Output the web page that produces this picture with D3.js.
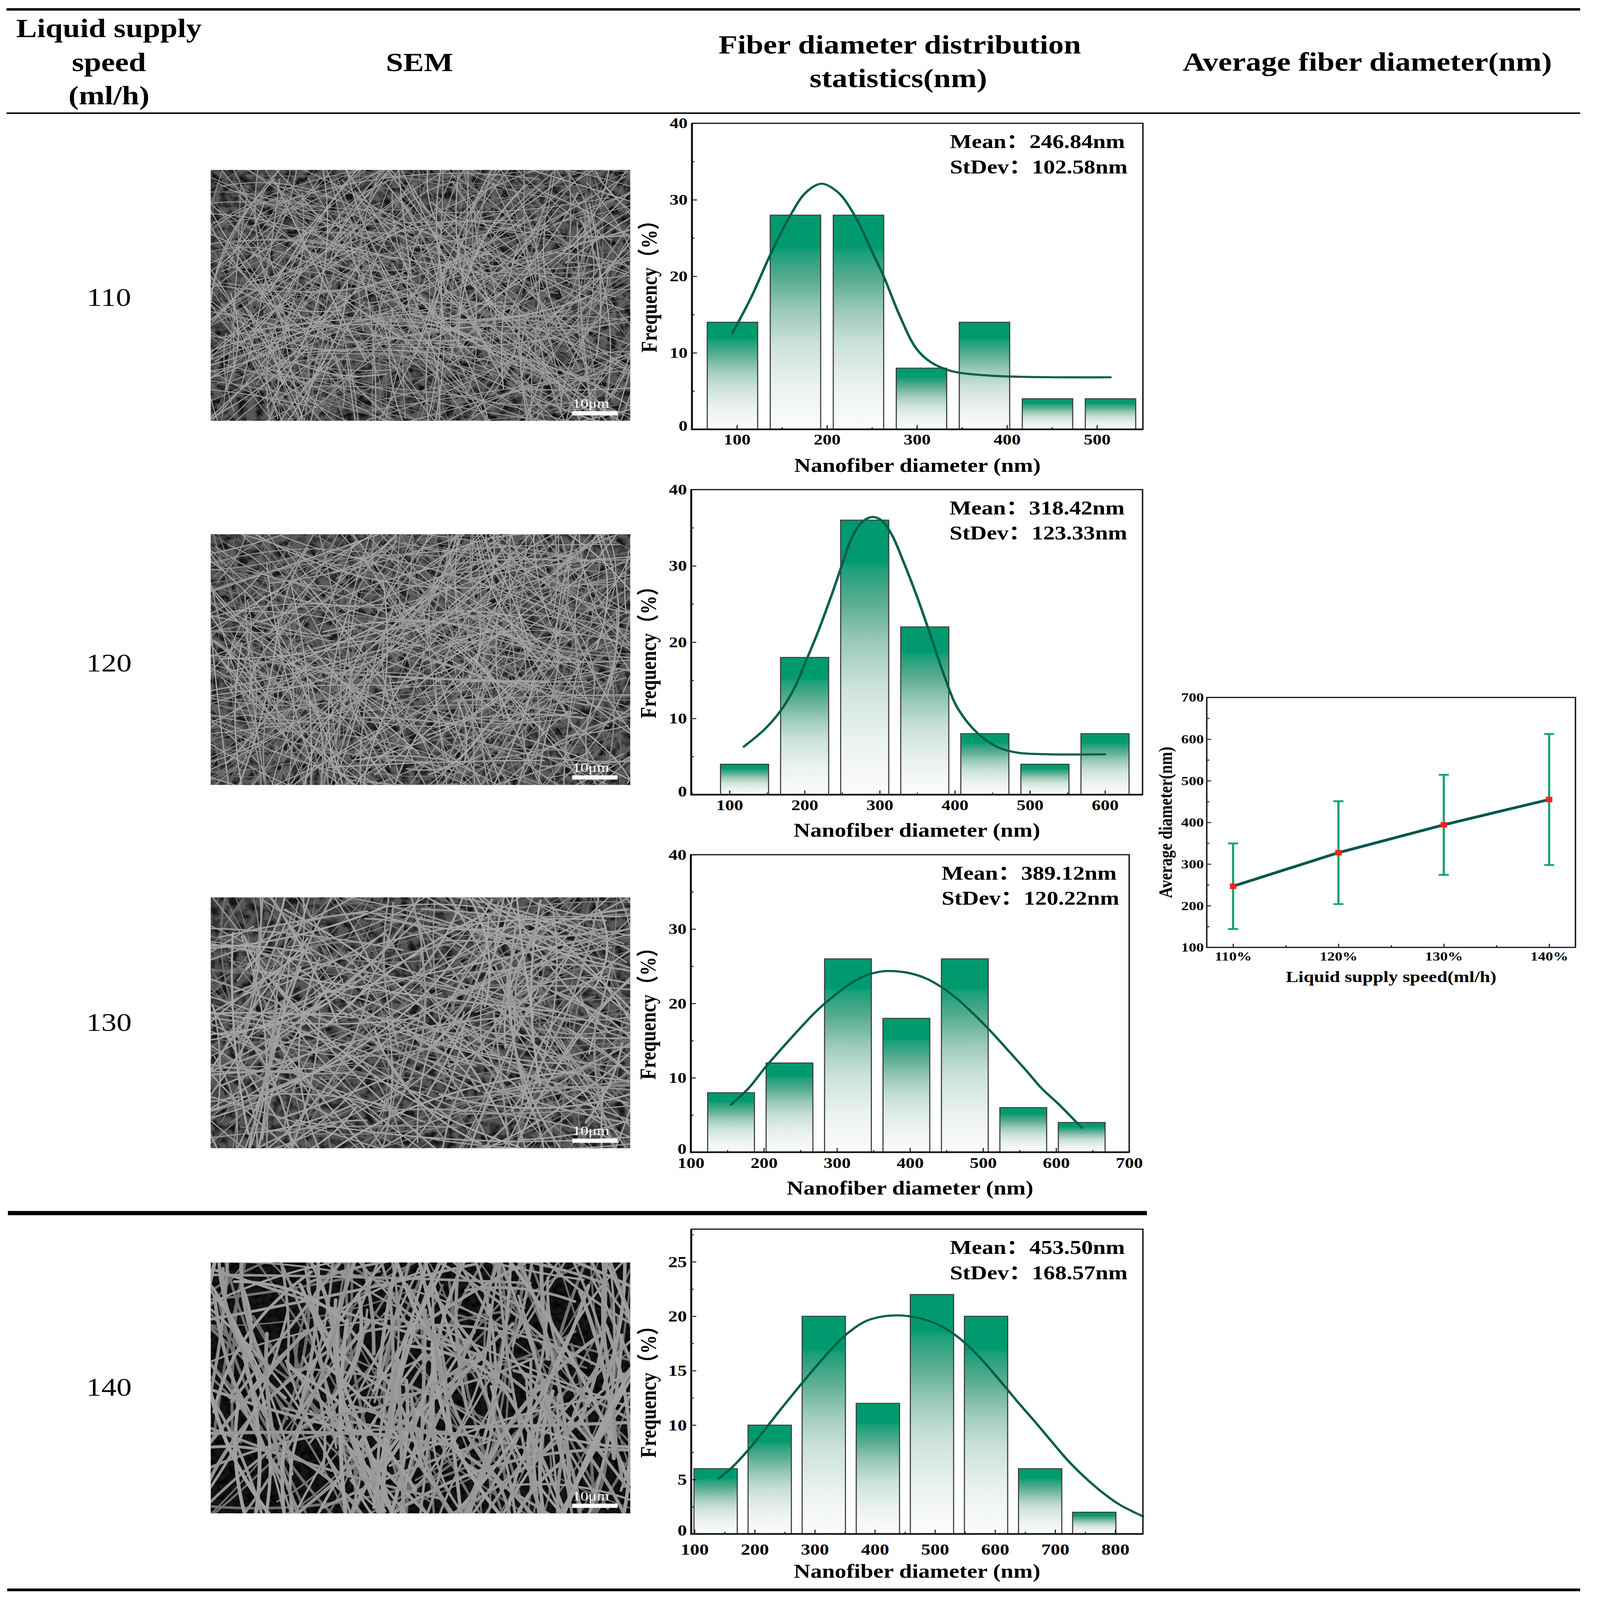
<!DOCTYPE html>
<html>
<head>
<meta charset="utf-8">
<script src="https://cdn.jsdelivr.net/npm/d3@7"></script>
<style>
  html, body { margin: 0; padding: 0; background: #fff; overflow: hidden; }
  svg { display: block; width: 100vw; height: 100vh; }
</style>
</head>
<body>
<svg id="fig" viewBox="0 0 4435 5281" preserveAspectRatio="none"></svg>
<script>
'use strict';

// ---------- data ----------
const supplySpeeds = ['110', '120', '130', '140'];

const binWidths = [70, 80, 80, 90];

const binCenters1 = [95, 165, 235, 305, 375, 445, 515];
const freq1 = [14, 28, 28, 8, 14, 4, 4];
const fitX1 = [95, 116, 137, 159, 177, 194, 212, 231, 251, 263, 281, 299, 315, 333, 347, 384, 423, 461, 515];
const fitY1 = [12.6, 17.3, 22.8, 27.9, 31.0, 32.1, 31.0, 27.9, 23.0, 20.0, 14.8, 10.6, 8.8, 7.8, 7.4, 7.0, 6.85, 6.8, 6.8];

const binCenters2 = [120, 200, 280, 360, 440, 520, 600];
const freq2 = [4, 18, 36, 22, 8, 4, 8];
const fitX2 = [119, 147, 168, 187, 200, 218, 236, 249, 262, 276, 289, 302, 316, 333, 351, 369, 387, 404, 431, 458, 484, 524, 600];
const fitY2 = [6.3, 8.6, 11.0, 14.1, 17.1, 21.4, 26.2, 29.9, 33.5, 35.7, 36.4, 36.0, 34.1, 30.2, 25.6, 20.5, 15.3, 11.3, 8.0, 6.2, 5.5, 5.3, 5.3];

const binCenters3 = [155, 235, 315, 395, 475, 555, 635];
const freq3 = [8, 12, 26, 18, 26, 6, 4];
const fitX3 = [155, 179, 201, 224, 247, 270, 293, 316, 338, 361, 377, 398, 421, 443, 466, 489, 512, 535, 558, 580, 603, 635];
const fitY3 = [6.4, 8.6, 11.3, 13.9, 16.4, 18.8, 20.8, 22.5, 23.7, 24.3, 24.35, 24.1, 23.4, 22.2, 20.5, 18.4, 16.1, 13.6, 11.1, 8.6, 6.5, 3.3];

const binCenters4 = [135, 225, 315, 405, 495, 585, 675, 765];
const freq4 = [6, 10, 20, 12, 22, 20, 6, 2];
const fitX4 = [140, 161, 189, 217, 244, 272, 300, 328, 356, 383, 411, 444, 472, 500, 528, 556, 583, 611, 639, 667, 694, 722, 750, 778, 806, 846];
const fitY4 = [5.1, 6.05, 7.7, 9.6, 11.5, 13.4, 15.25, 17.0, 18.5, 19.5, 19.96, 20.07, 19.85, 19.36, 18.5, 17.25, 15.7, 13.9, 12.04, 10.27, 8.5, 6.7, 5.17, 3.84, 2.73, 1.62];

const meanLabels = ['246.84', '318.42', '389.12', '453.50'];
const stdevLabels = ['102.58', '123.33', '120.22', '168.57'];

const xTicks1 = [100, 200, 300, 400, 500];
const xTicks2 = [100, 200, 300, 400, 500, 600];
const xTicks3 = [100, 200, 300, 400, 500, 600, 700];
const xTicks4 = [100, 200, 300, 400, 500, 600, 700, 800];
const yTicksFreq = [0, 10, 20, 30, 40];
const yTicksFreq4 = [0, 5, 10, 15, 20, 25];

const speedX = [110, 120, 130, 140];
const speedLabels = ['110%', '120%', '130%', '140%'];
const avgDiameter = [246.8, 327.4, 394.2, 455.0];
const avgError = [102.8, 123.5, 120.1, 157.3];
const avgYTicks = [100, 200, 300, 400, 500, 600, 700];

// ---------- layout ----------
const W = 4435, H = 5281;
const SERIF = '"Liberation Serif", "Times New Roman", "Noto Sans CJK SC", serif';
const INK = '#111';

const svg = d3.select('#fig');
svg.append('rect').attr('width', W).attr('height', H).attr('fill', '#fff');
const defs = svg.append('defs');

const grad = defs.append('linearGradient').attr('id', 'barGrad')
  .attr('x1', 0).attr('y1', 0).attr('x2', 0).attr('y2', 1);
[[0, '#009a6e'], [0.15, '#009a6e'], [0.17, '#199f79'], [0.3, '#5aad90'],
 [0.45, '#9ccbb9'], [0.6, '#cbe2d8'], [0.8, '#ebf2ef'], [1, '#fcfcfc']]
  .forEach(([o, c]) => grad.append('stop').attr('offset', o).attr('stop-color', c));

// table rules
const rules = [
  { x0: 18, x1: 4380, y: 27, h: 8 },
  { x0: 18, x1: 4380, y: 371, h: 5 },
  { x0: 22, x1: 3179, y: 3997, h: 14 },
  { x0: 20, x1: 4380, y: 5243, h: 9 }
];
svg.append('g').selectAll('rect').data(rules).join('rect')
  .attr('x', d => d.x0).attr('y', d => d.y)
  .attr('width', d => d.x1 - d.x0).attr('height', d => d.h)
  .attr('fill', '#000');

// header
const header = [
  { t: 'Liquid supply', x: 302, y: 123 },
  { t: 'speed', x: 302, y: 235 },
  { t: '(ml/h)', x: 302, y: 344 },
  { t: 'SEM', x: 1163, y: 235 },
  { t: 'Fiber diameter distribution', x: 2494, y: 177 },
  { t: 'statistics(nm)', x: 2490, y: 288 },
  { t: 'Average fiber diameter(nm)', x: 3790, y: 233 }
];
svg.append('g').selectAll('text').data(header).join('text')
  .attr('x', d => d.x).attr('y', d => d.y)
  .attr('text-anchor', 'middle')
  .attr('font-family', SERIF).attr('font-weight', 'bold').attr('font-size', 86)
  .attr('fill', '#000')
  .text(d => d.t);

// row labels
const rowLabelY = [1010, 2216, 3403, 4607];
svg.append('g').selectAll('text').data(supplySpeeds).join('text')
  .attr('x', 302).attr('y', (d, i) => rowLabelY[i])
  .attr('text-anchor', 'middle')
  .attr('font-family', SERIF).attr('font-size', 84).attr('fill', '#000')
  .text(d => d);

// ---------- SEM micrograph stand-ins ----------
const semBox = { x: 584, w: 1163, h: 828, tops: [561, 1763, 2962, 4167] };
const semStyles = [
  { bg: '#585858', n: 650, wMin: 2.2, wMax: 3.8, gMin: 145, gMax: 172, vert: 0, off: 11, holes: 0.8, lMin: 0.15, lMax: 0.7 },
  { bg: '#5a5a5a', n: 620, wMin: 2.6, wMax: 4.2, gMin: 145, gMax: 175, vert: 0, off: 933, holes: 0.75, lMin: 0.15, lMax: 0.7 },
  { bg: '#565656', n: 380, wMin: 3.5, wMax: 6, gMin: 148, gMax: 172, vert: 0, off: 1771, holes: 0.75, lMin: 0.2, lMax: 0.85 },
  { bg: '#161616', n: 290, wMin: 6, wMax: 11, gMin: 146, gMax: 162, vert: 0.6, off: 2659, holes: 0.9, lMin: 0.25, lMax: 0.95 }
];

function hash(k, j) {
  const s = Math.sin(k * 12.9898 + j * 78.233) * 43758.5453;
  return s - Math.floor(s);
}

semStyles.forEach((st, i) => {
  const f = defs.append('filter').attr('id', 'holes' + i)
    .attr('x', 0).attr('y', 0).attr('width', 1).attr('height', 1);
  f.append('feTurbulence').attr('type', 'fractalNoise')
    .attr('baseFrequency', i === 3 ? 0.06 : 0.04).attr('numOctaves', 3).attr('seed', 3 + i * 7);
  f.append('feColorMatrix').attr('type', 'matrix')
    .attr('values', '0 0 0 0 0  0 0 0 0 0  0 0 0 0 0  3 0 0 0 -1.2');
});
defs.append('filter').attr('id', 'soft')
  .append('feGaussianBlur').attr('stdDeviation', 0.8);

semBox.tops.forEach((top, i) => {
  const st = semStyles[i];
  const w = semBox.w, h = semBox.h;
  defs.append('clipPath').attr('id', 'semClip' + i)
    .append('rect').attr('width', w).attr('height', h);
  const g = svg.append('g')
    .attr('transform', `translate(${semBox.x},${top})`)
    .attr('clip-path', `url(#semClip${i})`);
  g.append('rect').attr('width', w).attr('height', h).attr('fill', st.bg);
  g.append('rect').attr('width', w).attr('height', h)
    .attr('filter', `url(#holes${i})`).attr('opacity', st.holes);

  const fibres = [];
  for (let n = 0; n < st.n; n++) {
    const k = n + st.off;
    const cx = hash(k, 1) * w, cy = hash(k, 2) * h;
    let th = hash(k, 3) * Math.PI;
    if (st.vert && hash(k, 7) < st.vert) th = Math.PI / 2 + (hash(k, 3) - 0.5) * 1.2;
    const len = (st.lMin + (st.lMax - st.lMin) * hash(k, 4)) * Math.max(w, h);
    const bend = (hash(k, 5) - 0.5) * 0.45 * len;
    const dx = Math.cos(th) * len / 2, dy = Math.sin(th) * len / 2;
    const qx = cx - Math.sin(th) * bend, qy = cy + Math.cos(th) * bend;
    const under = n < st.n * 0.35;
    let gray = st.gMin + (st.gMax - st.gMin) * hash(k, 6);
    if (under) gray *= 0.74;
    fibres.push({
      d: `M${cx - dx},${cy - dy}Q${qx},${qy} ${cx + dx},${cy + dy}`,
      sw: (st.wMin + (st.wMax - st.wMin) * hash(k, 8)) * (under ? 0.8 : 1),
      col: `rgb(${gray | 0},${gray | 0},${gray | 0})`
    });
  }
  g.append('g').attr('filter', 'url(#soft)')
    .selectAll('path').data(fibres).join('path')
    .attr('d', d => d.d).attr('fill', 'none')
    .attr('stroke', d => d.col).attr('stroke-width', d => d.sw)
    .attr('stroke-linecap', 'round');

  // scale bar
  g.append('rect').attr('x', w - 161).attr('y', h - 32).attr('width', 126).attr('height', 14).attr('fill', '#fff');
  g.append('text').attr('x', w - 160).attr('y', h - 43)
    .attr('font-family', SERIF).attr('font-size', 44).attr('fill', '#fff')
    .text('10μm');
});

// ---------- histograms ----------
const hists = [
  { c: binCenters1, f: freq1, fx: fitX1, fy: fitY1, xt: xTicks1, yt: yTicksFreq },
  { c: binCenters2, f: freq2, fx: fitX2, fy: fitY2, xt: xTicks2, yt: yTicksFreq },
  { c: binCenters3, f: freq3, fx: fitX3, fy: fitY3, xt: xTicks3, yt: yTicksFreq },
  { c: binCenters4, f: freq4, fx: fitX4, fy: fitY4, xt: xTicks4, yt: yTicksFreq4 }
];
const histLayout = [
  { x0: 1918, x1: 3168, y0: 407, y1: 1417, xDom: [50, 551], yMax: 40, tfs: 50, tDy: 50, titleDy: 141, statX: 535 },
  { x0: 1916, x1: 3167, y0: 1616, y1: 2623, xDom: [49, 650], yMax: 40, tfs: 50, tDy: 51, titleDy: 139, statX: 535 },
  { x0: 1915, x1: 3130, y0: 2821, y1: 3803, xDom: [100, 700], yMax: 40, tfs: 50, tDy: 52, titleDy: 140, statX: 520 },
  { x0: 1916, x1: 3168, y0: 4057, y1: 5063, xDom: [94.4, 846], yMax: 28, tfs: 52, tDy: 69, titleDy: 145, statX: 535 }
];

function styleAxis(g, fs) {
  g.select('.domain').remove();
  g.attr('font-family', SERIF).attr('font-size', fs).attr('font-weight', 'bold').attr('color', INK);
  g.selectAll('.tick line').attr('stroke-width', 3);
  g.selectAll('text').attr('fill', '#000');
}

hists.forEach((d, i) => {
  const L = histLayout[i];
  const bw = binWidths[i];
  const x = d3.scaleLinear().domain(L.xDom).range([L.x0, L.x1]);
  const y = d3.scaleLinear().domain([0, L.yMax]).range([L.y1, L.y0]);
  const g = svg.append('g');

  g.append('rect').attr('x', L.x0).attr('y', L.y0)
    .attr('width', L.x1 - L.x0).attr('height', L.y1 - L.y0).attr('fill', '#fff');

  const bars = d.c.map((c, k) => ({ c, f: d.f[k] }));
  g.append('g').selectAll('rect').data(bars).join('rect')
    .attr('x', b => x(b.c - 0.4 * bw))
    .attr('width', b => x(b.c + 0.4 * bw) - x(b.c - 0.4 * bw))
    .attr('y', b => y(b.f))
    .attr('height', b => y(0) - y(b.f))
    .attr('fill', 'url(#barGrad)')
    .attr('stroke', '#3a3a3a').attr('stroke-width', 3);

  const pts = d.fx.map((v, k) => [v, d.fy[k]]);
  g.append('path').datum(pts)
    .attr('d', d3.line().x(p => x(p[0])).y(p => y(p[1])).curve(d3.curveCatmullRom.alpha(0.5)))
    .attr('fill', 'none').attr('stroke', '#00604a').attr('stroke-width', 7)
    .attr('stroke-linecap', 'round');

  // axes
  const xMinor = d.xt.slice(0, -1).map(v => v + 50).concat([d.xt[0] - 50])
    .filter(v => v > L.xDom[0] && v < L.xDom[1]);
  const gxm = g.append('g').attr('transform', `translate(0,${L.y1})`)
    .call(d3.axisBottom(x).tickValues(xMinor).tickSizeInner(-7).tickSizeOuter(0).tickFormat(''));
  styleAxis(gxm, L.tfs);
  const gx = g.append('g').attr('transform', `translate(0,${L.y1})`)
    .call(d3.axisBottom(x).tickValues(d.xt).tickSizeInner(-14).tickSizeOuter(0)
      .tickPadding(L.tDy - 0.71 * L.tfs).tickFormat(d3.format('d')));
  styleAxis(gx, L.tfs);

  const yStep = d.yt[1] - d.yt[0];
  const yMinor = d.yt.map(v => v + yStep / 2).filter(v => v < L.yMax);
  const gym = g.append('g').attr('transform', `translate(${L.x0},0)`)
    .call(d3.axisLeft(y).tickValues(yMinor).tickSizeInner(-7).tickSizeOuter(0).tickFormat(''));
  styleAxis(gym, L.tfs);
  const gy = g.append('g').attr('transform', `translate(${L.x0},0)`)
    .call(d3.axisLeft(y).tickValues(d.yt).tickSizeInner(-14).tickSizeOuter(0)
      .tickPadding(12).tickFormat(d3.format('d')));
  styleAxis(gy, L.tfs);
  // the zero label sits just above the first x label, as in the source figure
  gy.selectAll('.tick').filter(v => v === 0).select('text').attr('dy', '0.1em');

  // frame
  g.append('rect').attr('x', L.x0).attr('y', L.y0)
    .attr('width', L.x1 - L.x0).attr('height', L.y1 - L.y0)
    .attr('fill', 'none').attr('stroke', '#1a1a1a').attr('stroke-width', 4);
  g.append('path').attr('d', `M${L.x0},${L.y0}V${L.y1}H${L.x1}`)
    .attr('fill', 'none').attr('stroke', '#111').attr('stroke-width', 5.5);

  // stats
  const sx = L.x1 - L.statX;
  [['Mean：' + meanLabels[i] + 'nm', 82], ['StDev：' + stdevLabels[i] + 'nm', 165]].forEach(([t, dy]) => {
    g.append('text').attr('x', sx).attr('y', L.y0 + dy)
      .attr('font-family', SERIF).attr('font-size', 64).attr('font-weight', 'bold')
      .attr('fill', '#000').text(t);
  });

  // titles
  g.append('text').attr('x', (L.x0 + L.x1) / 2).attr('y', L.y1 + L.titleDy)
    .attr('text-anchor', 'middle')
    .attr('font-family', SERIF).attr('font-size', 64).attr('font-weight', 'bold')
    .attr('fill', '#000').text('Nanofiber diameter (nm)');
  const cy = (L.y0 + L.y1) / 2 + 18;
  g.append('text')
    .attr('transform', `translate(${L.x0 - 98},${cy}) rotate(-90)`)
    .attr('text-anchor', 'middle')
    .attr('font-family', SERIF).attr('font-size', 62).attr('font-weight', 'bold')
    .attr('fill', '#000').text('Frequency（%）');
});

// ---------- average diameter chart ----------
{
  const box = { x0: 3345, x1: 4367, y0: 2302, y1: 3127 };
  const ax = d3.scaleLinear().domain([107.5, 142.5]).range([box.x0, box.x1]);
  const ay = d3.scaleLinear().domain([100, 700]).range([box.y1, box.y0]);
  const g = svg.append('g');
  const pts = speedX.map((s, k) => ({ s, m: avgDiameter[k], e: avgError[k] }));

  const gxm = g.append('g').attr('transform', `translate(0,${box.y1})`)
    .call(d3.axisBottom(ax).tickValues([115, 125, 135]).tickSizeInner(-7).tickSizeOuter(0).tickFormat(''));
  styleAxis(gxm, 42);
  const gx = g.append('g').attr('transform', `translate(0,${box.y1})`)
    .call(d3.axisBottom(ax).tickValues(speedX).tickSizeInner(-12).tickSizeOuter(0)
      .tickPadding(13).tickFormat((v, k) => speedLabels[k]));
  styleAxis(gx, 42);
  const gym = g.append('g').attr('transform', `translate(${box.x0},0)`)
    .call(d3.axisLeft(ay).tickValues(avgYTicks.slice(0, -1).map(v => v + 50)).tickSizeInner(-7).tickSizeOuter(0).tickFormat(''));
  styleAxis(gym, 42);
  const gy = g.append('g').attr('transform', `translate(${box.x0},0)`)
    .call(d3.axisLeft(ay).tickValues(avgYTicks).tickSizeInner(-12).tickSizeOuter(0).tickPadding(8));
  styleAxis(gy, 42);

  g.append('rect').attr('x', box.x0).attr('y', box.y0)
    .attr('width', box.x1 - box.x0).attr('height', box.y1 - box.y0)
    .attr('fill', 'none').attr('stroke', '#1a1a1a').attr('stroke-width', 4);

  // error bars
  const eb = g.append('g').attr('stroke', '#17a077').attr('stroke-width', 6).attr('fill', 'none');
  eb.selectAll('path').data(pts).join('path')
    .attr('d', p => {
      const xx = ax(p.s), yt = ay(p.m + p.e), yb = ay(p.m - p.e);
      return `M${xx},${yt}V${yb}M${xx - 14},${yt}H${xx + 14}M${xx - 14},${yb}H${xx + 14}`;
    });

  g.append('path').datum(pts)
    .attr('d', d3.line().x(p => ax(p.s)).y(p => ay(p.m)))
    .attr('fill', 'none').attr('stroke', '#00564c').attr('stroke-width', 9);

  g.append('g').selectAll('rect').data(pts).join('rect')
    .attr('x', p => ax(p.s) - 9).attr('y', p => ay(p.m) - 9)
    .attr('width', 18).attr('height', 18).attr('fill', '#ff1f1f');

  g.append('text').attr('x', (box.x0 + box.x1) / 2).attr('y', 3241)
    .attr('text-anchor', 'middle')
    .attr('font-family', SERIF).attr('font-size', 52).attr('font-weight', 'bold')
    .attr('fill', '#000').text('Liquid supply speed(ml/h)');
  g.append('text')
    .attr('transform', `translate(3248,${(box.y0 + box.y1) / 2}) rotate(-90)`)
    .attr('text-anchor', 'middle')
    .attr('font-family', SERIF).attr('font-size', 52).attr('font-weight', 'bold')
    .attr('fill', '#000').text('Average diameter(nm)');
}
</script>
</body>
</html>
